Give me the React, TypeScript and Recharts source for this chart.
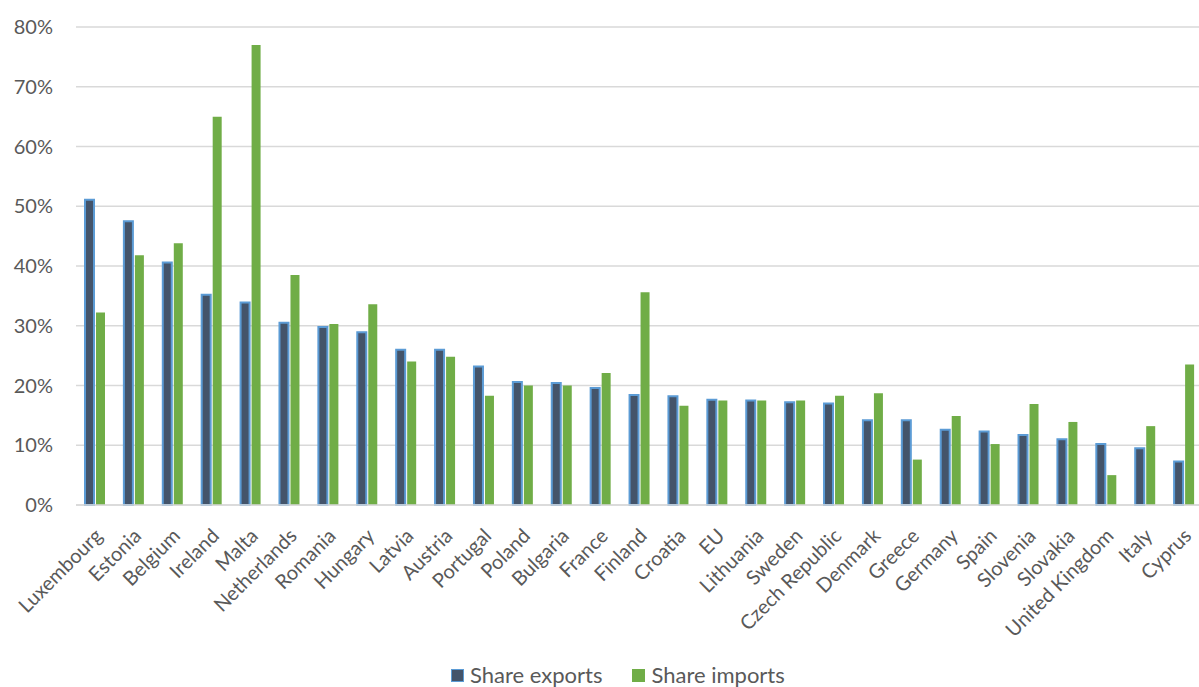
import React from "react";
import { BarChart, Bar, XAxis, YAxis, CartesianGrid, Legend } from "recharts";

const countries = [
  "Luxembourg", "Estonia", "Belgium", "Ireland", "Malta", "Netherlands",
  "Romania", "Hungary", "Latvia", "Austria", "Portugal", "Poland",
  "Bulgaria", "France", "Finland", "Croatia", "EU", "Lithuania", "Sweden",
  "Czech Republic", "Denmark", "Greece", "Germany", "Spain", "Slovenia",
  "Slovakia", "United Kingdom", "Italy", "Cyprus",
];

const shareExports = [
  51.1, 47.5, 40.6, 35.2, 33.9, 30.5, 29.8, 28.9, 26.0, 26.0, 23.2, 20.6,
  20.4, 19.6, 18.4, 18.2, 17.6, 17.5, 17.2, 17.0, 14.2, 14.2, 12.6, 12.3,
  11.7, 11.0, 10.2, 9.5, 7.3,
];

const shareImports = [
  32.2, 41.8, 43.8, 65.0, 77.0, 38.5, 30.3, 33.6, 24.0, 24.8, 18.3, 20.0,
  20.0, 22.1, 35.6, 16.6, 17.5, 17.5, 17.5, 18.3, 18.7, 7.6, 14.9, 10.2,
  16.9, 13.9, 5.0, 13.2, 23.5,
];

const yTicks = [0, 10, 20, 30, 40, 50, 60, 70, 80];

const data = countries.map((name, i) => ({
  name,
  exports: shareExports[i],
  imports: shareImports[i],
}));

const FONT = "Lato, 'Open Sans', sans-serif";
const TEXT = "#595959";
const EXPORT_FILL = "#44546A";
const EXPORT_STROKE = "#5B9BD5";
const IMPORT_FILL = "#70AD47";

function CountryTick(props: any) {
  const { x, y, payload } = props;
  return (
    <g transform={`translate(${x - 2},${y + 14})`}>
      <text
        textAnchor="end"
        transform="rotate(-45)"
        dy="0.72em"
        fill={TEXT}
        fontSize={20}
        fontFamily={FONT}
      >
        {payload.value}
      </text>
    </g>
  );
}

function LegendContent() {
  const swatch = (fill: string, stroke: string | null) => (
    <span
      style={{
        display: "inline-block",
        width: stroke ? 11 : 13,
        height: stroke ? 11 : 13,
        background: fill,
        border: stroke ? `1px solid ${stroke}` : "none",
        marginRight: 6,
      }}
    />
  );
  const label = (text: string) => (
    <span style={{ fontSize: 22, color: TEXT, fontFamily: FONT, lineHeight: "24px" }}>{text}</span>
  );
  return (
    <div style={{ height: 24, display: "flex", alignItems: "center", paddingLeft: 451 }}>
      <span style={{ display: "inline-flex", alignItems: "center", marginRight: 30 }}>
        {swatch(EXPORT_FILL, EXPORT_STROKE)}
        {label("Share exports")}
      </span>
      <span style={{ display: "inline-flex", alignItems: "center" }}>
        {swatch(IMPORT_FILL, null)}
        {label("Share imports")}
      </span>
    </div>
  );
}

export default function App() {
  return (
    <div
      style={{
        position: "absolute",
        left: 0,
        top: 0,
        width: 1199,
        height: 687,
        overflow: "hidden",
        background: "#fff",
      }}
    >
      <BarChart
        width={1204}
        height={687}
        data={data}
        margin={{ top: 27, right: 0, bottom: 0, left: 0 }}
        barGap={2}
        barSize={9}
      >
        <CartesianGrid vertical={false} stroke="#d9d9d9" strokeWidth={1.5} />
        <XAxis
          dataKey="name"
          interval={0}
          height={158}
          tick={<CountryTick />}
          tickLine={false}
          axisLine={{ stroke: "#d9d9d9", strokeWidth: 1.5 }}
        />
        <YAxis
          width={76}
          domain={[0, 80]}
          ticks={yTicks}
          tickFormatter={(v: number) => `${v}%`}
          tickLine={false}
          axisLine={false}
          tickSize={0}
          tickMargin={23}
          tick={{ fill: TEXT, fontSize: 20, fontFamily: FONT }}
        />
        <Legend verticalAlign="bottom" content={<LegendContent />} />
        <Bar
          dataKey="exports"
          name="Share exports"
          fill={EXPORT_FILL}
          stroke={EXPORT_STROKE}
          strokeWidth={2}
          isAnimationActive={false}
        />
        <Bar
          dataKey="imports"
          name="Share imports"
          fill={IMPORT_FILL}
          isAnimationActive={false}
        />
      </BarChart>
    </div>
  );
}
